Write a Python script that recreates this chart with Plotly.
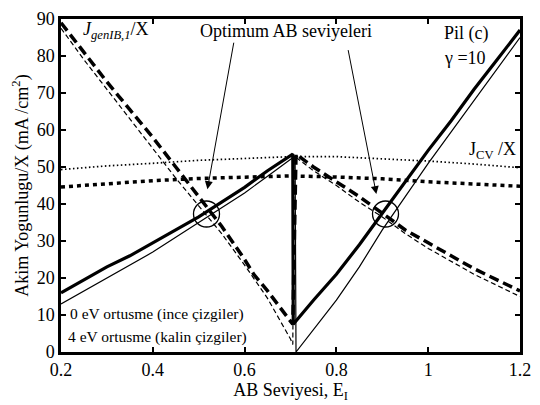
import plotly.graph_objects as go

# ---- data ----
# Solid curves (J_short / X): thick = 4 eV overlap, thin = 0 eV overlap
x_sol_thick = [0.20, 0.25, 0.30, 0.35, 0.40, 0.45, 0.50, 0.55, 0.60, 0.65, 0.70, 0.705,
               0.706, 0.75, 0.80, 0.85, 0.90, 0.95, 1.00, 1.05, 1.10, 1.15, 1.20]
y_sol_thick = [16.0, 19.5, 23.0, 26.0, 29.5, 33.0, 36.5, 40.5, 44.5, 49.0, 53.0, 53.5,
               7.5, 14.0, 21.0, 29.0, 37.5, 46.0, 54.5, 62.5, 71.0, 79.0, 87.0]
x_sol_thin = [0.20, 0.25, 0.30, 0.35, 0.40, 0.45, 0.50, 0.55, 0.60, 0.65, 0.70, 0.71,
              0.712, 0.75, 0.80, 0.85, 0.90, 0.95, 1.00, 1.05, 1.10, 1.15, 1.20]
y_sol_thin = [13.0, 16.5, 20.0, 23.5, 27.0, 31.0, 35.0, 39.0, 43.0, 47.5, 52.0, 53.0,
              0.0, 6.0, 14.0, 23.0, 33.0, 42.0, 51.0, 59.5, 68.0, 76.5, 85.0]

# Dashed curves (J_genIB,1 / X then J_genIB,2 / X)
x_dash_thick = [0.20, 0.25, 0.30, 0.35, 0.40, 0.45, 0.50, 0.55, 0.60, 0.62, 0.65, 0.70, 0.705,
                0.712, 0.75, 0.80, 0.85, 0.90, 0.95, 1.00, 1.05, 1.10, 1.15, 1.20]
y_dash_thick = [89.0, 81.0, 73.0, 65.5, 58.0, 50.0, 42.0, 34.0, 25.0, 21.0, 16.5, 8.5, 7.5,
                53.5, 50.0, 46.0, 42.0, 37.5, 33.0, 29.5, 26.0, 22.5, 19.5, 16.5]
x_dash_thin = [0.20, 0.25, 0.30, 0.35, 0.40, 0.45, 0.50, 0.55, 0.60, 0.65, 0.70, 0.705,
               0.708, 0.75, 0.80, 0.85, 0.90, 0.95, 1.00, 1.05, 1.10, 1.15, 1.20]
y_dash_thin = [87.5, 79.0, 71.0, 63.0, 55.0, 47.0, 39.5, 32.0, 23.5, 14.5, 3.5, 2.0,
               53.0, 49.0, 45.0, 40.5, 36.5, 32.0, 28.0, 24.5, 21.0, 18.0, 15.0]

# Dotted curves (J_CV / X)
x_dot = [0.20, 0.30, 0.40, 0.50, 0.60, 0.70, 0.80, 0.90, 1.00, 1.10, 1.20]
y_dot_thin = [49.3, 50.3, 51.0, 51.8, 52.3, 52.8, 52.8, 52.3, 51.6, 50.8, 49.8]
y_dot_thick = [44.6, 45.5, 46.3, 46.9, 47.3, 47.6, 47.3, 46.8, 46.0, 45.4, 44.8]

# Optimum IB levels (circled points)
opt_x = [0.517, 0.907]
opt_y = [37.3, 37.3]

x_tickvals = [0.2, 0.4, 0.6, 0.8, 1.0, 1.2]
x_ticktext = ["0.2", "0.4", "0.6", "0.8", "1", "1.2"]
y_tickvals = [0, 10, 20, 30, 40, 50, 60, 70, 80, 90]

FONT = "Liberation Serif"

fig = go.Figure()
fig.add_trace(go.Scatter(x=x_dot, y=y_dot_thin, mode="lines",
                         line=dict(color="black", width=1.7, dash="1.5px,2.5px")))
fig.add_trace(go.Scatter(x=x_dot, y=y_dot_thick, mode="lines",
                         line=dict(color="black", width=3.5, dash="4px,4px")))
fig.add_trace(go.Scatter(x=x_dash_thin, y=y_dash_thin, mode="lines",
                         line=dict(color="black", width=1.2, dash="5px,3px")))
fig.add_trace(go.Scatter(x=x_dash_thick, y=y_dash_thick, mode="lines",
                         line=dict(color="black", width=3.5, dash="10px,5px")))
fig.add_trace(go.Scatter(x=x_sol_thin, y=y_sol_thin, mode="lines",
                         line=dict(color="black", width=1.2)))
fig.add_trace(go.Scatter(x=x_sol_thick, y=y_sol_thick, mode="lines",
                         line=dict(color="black", width=3.2)))

# circles around optimum points
for cx, cy in zip(opt_x, opt_y):
    fig.add_shape(type="circle", xref="x", yref="y", xsizemode="pixel", ysizemode="pixel",
                  xanchor=cx, yanchor=cy, x0=-13, x1=13, y0=-13, y1=13,
                  line=dict(color="black", width=1.3))

# arrows from label to circles
arrow_tail = [(0.577, 84.0), (0.825, 82.0)]
arrow_head = [(0.519, 44.0), (0.887, 42.7)]
for (tx, ty), (hx, hy) in zip(arrow_tail, arrow_head):
    fig.add_annotation(x=hx, y=hy, ax=tx, ay=ty, xref="x", yref="y", axref="x", ayref="y",
                       text="", showarrow=True, arrowhead=2, arrowsize=1.6, arrowwidth=1,
                       arrowcolor="black")

tf = dict(family=FONT, size=18, color="black")
fig.add_annotation(x=0.69, y=86.8, xref="x", yref="y", text="Optimum AB seviyeleri",
                   showarrow=False, font=tf)
fig.add_annotation(x=0.243, y=86.8, xref="x", yref="y", xanchor="left",
                   text="<i>J</i><sub><i>genIB,1</i></sub>/X", showarrow=False, font=tf)
fig.add_annotation(x=1.03, y=86.0, xref="x", yref="y", xanchor="left",
                   text="Pil (c)", showarrow=False, font=tf)
fig.add_annotation(x=1.03, y=79.5, xref="x", yref="y", xanchor="left",
                   text="γ =10", showarrow=False, font=tf)
fig.add_annotation(x=1.085, y=54.5, xref="x", yref="y", xanchor="left",
                   text="J<sub>CV</sub> /X", showarrow=False, font=tf)
fig.add_annotation(x=1.207, y=12.0, xref="x", yref="y", xanchor="right",
                   text="<i>J</i><sub><i>genIB,2</i></sub>/X", showarrow=False, font=tf)
lf = dict(family=FONT, size=15.5, color="black")
fig.add_annotation(x=0.216, y=10.2, xref="x", yref="y", xanchor="left",
                   text="0 eV ortusme (ince çizgiler)", showarrow=False, font=lf)
fig.add_annotation(x=0.21, y=4.0, xref="x", yref="y", xanchor="left",
                   text="4 eV ortusme (kalin çizgiler)", showarrow=False, font=lf)

axis_common = dict(showline=True, linewidth=2.5, linecolor="black", mirror="ticks",
                   ticks="inside", ticklen=5, tickwidth=1.5, tickcolor="black",
                   showgrid=False, zeroline=False,
                   tickfont=dict(family=FONT, size=18, color="black"))
fig.update_xaxes(range=[0.2, 1.2], tickvals=x_tickvals, ticktext=x_ticktext,
                 title=dict(text="AB Seviyesi, E<sub>I</sub>",
                            font=dict(family=FONT, size=18, color="black"), standoff=2),
                 **axis_common)
fig.update_yaxes(range=[0, 90], tickvals=y_tickvals,
                 title=dict(text="Akim Yogunlugu/X (mA /cm<sup>2</sup>)",
                            font=dict(family=FONT, size=18, color="black"), standoff=4),
                 **axis_common)
fig.update_layout(width=540, height=405, showlegend=False,
                  margin=dict(l=61, r=12, t=9, b=53),
                  paper_bgcolor="white", plot_bgcolor="white")
fig.write_html("out.html")
